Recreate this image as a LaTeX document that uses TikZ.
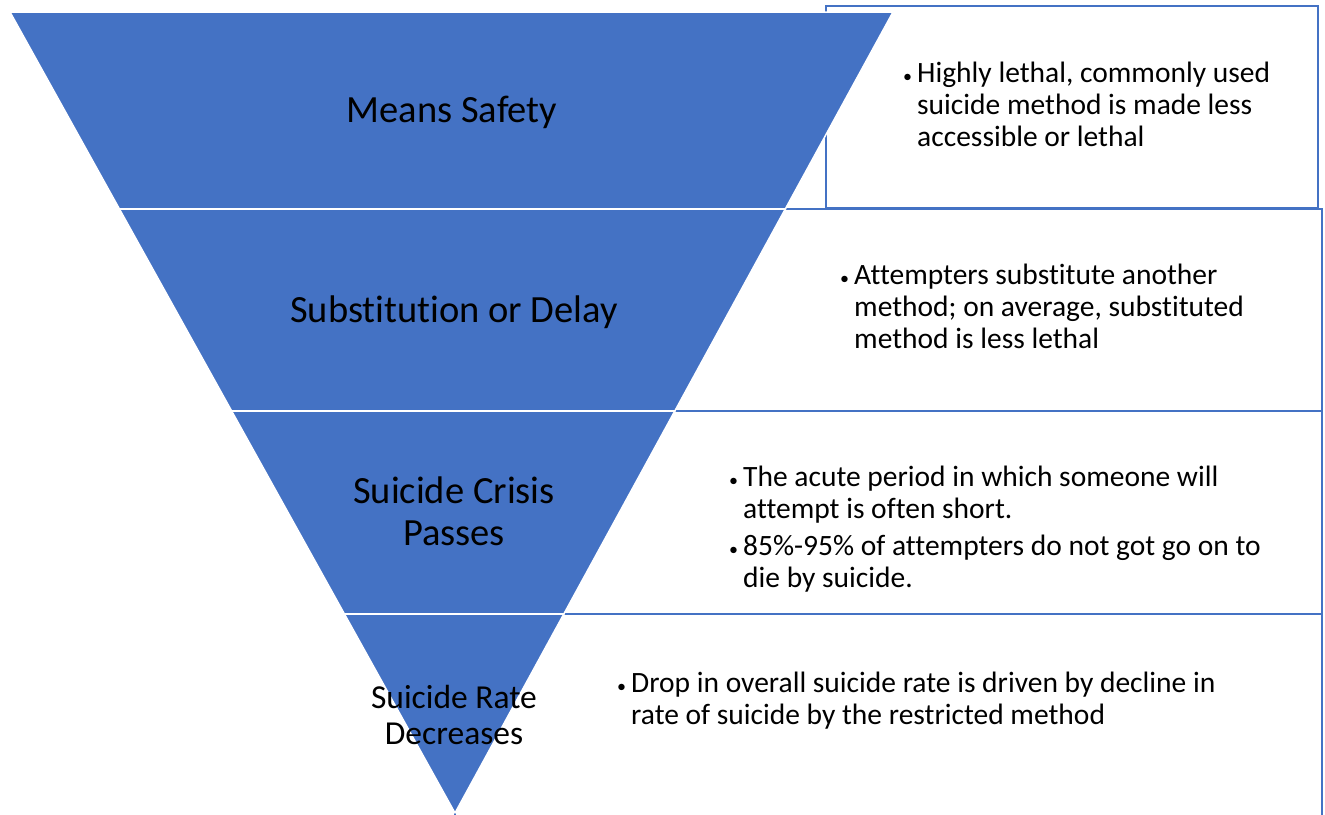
\documentclass[tikz,border=0pt]{standalone}
\usepackage{fontspec}
\setmainfont{Carlito}[Ligatures=NoCommon]
\usepackage{tkz-euclide}
\usetikzlibrary{calc}

\definecolor{funnel}{HTML}{4472C4}
\newcommand{\bl}{\makebox[14pt][l]{\fontsize{18}{18}\selectfont •}}
\newcommand{\ind}{\hspace*{14pt}}
\tikzset{
  layer/.style={fill=funnel, draw=white, line width=1.5pt},
  infobox/.style={draw=funnel, line width=1.8pt, fill=white},
  stage/.style={align=center, anchor=base, font=\fontsize{38.5}{42}\selectfont},
  note/.style={align=left, anchor=base west, inner sep=0pt, font=\fontsize{29.5}{32}\selectfont},
}

\begin{document}
\begin{tikzpicture}[x=1pt,y=-1pt]
    \useasboundingbox (0,0) rectangle (1325,814);
    \clip (0,0) rectangle (1325,814);
    % boxes behind the funnel
    \draw[infobox] (826,6) rectangle (1318,208);
    \draw[infobox] (455,209) rectangle (1322,411);
    \draw[infobox] (455,411) rectangle (1322,614);
    \draw[infobox] (455,614) rectangle (1322,840);
    % funnel
    \tkzDefPoint(10,12){t_1}
    \tkzDefPoint(893,12){t_2}
    \tkzDefPoint(455,813){a}
    \tkzDefPoint(119.4,209){l_1}
    \tkzDefPoint(785.3,209){r_1}
    \tkzDefPoint(231.7,411){l_2}
    \tkzDefPoint(674.8,411){r_2}
    \tkzDefPoint(344.5,614){l_3}
    \tkzDefPoint(563.8,614){r_3}
    \tkzDrawPolygon[layer](t_1,t_2,a)
    \tkzDrawSegments[white, line width=2.5pt](l_1,r_1 l_2,r_2 l_3,r_3)
    % stage labels (base = last line)
    \node[stage] (means) at (452,122) {Means Safety};
    \node[stage] (subst) at (454,322) {Substitution or Delay};
    \node[stage] (crisis) at (454,545) {Suicide Crisis\\Passes};
    \node[stage, font=\fontsize{33.5}{36}\selectfont] (rate) at (454,744) {Suicide Rate\\Decreases};
    % notes
    \node[note] (n_1) at (903,146) {\bl Highly lethal, commonly used\\\ind suicide method is made less\\\ind accessible or lethal};
    \node[note] (n_2) at (840,348) {\bl Attempters substitute another\\\ind method; on average, substituted\\\ind method is less lethal};
    \node[note] (n_3) at (729,587) {\bl The acute period in which someone will\\\ind attempt is often short.\\[5pt]\bl 85\%-95\% of attempters do not got go on to\\\ind die by suicide.};
    \node[note] (n_4) at (617,724) {\bl Drop in overall suicide rate is driven by decline in\\\ind rate of suicide by the restricted method};
\end{tikzpicture}
\end{document}
